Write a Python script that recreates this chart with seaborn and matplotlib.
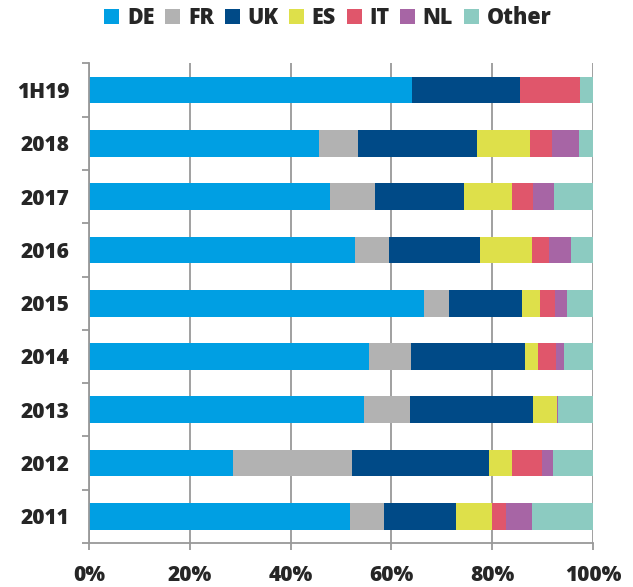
import pandas as pd
import matplotlib.pyplot as plt
import seaborn as sns
from matplotlib.patches import Patch
from matplotlib.ticker import FixedLocator

# ================================
# Data (share of total, %)
# ================================
periods = ["1H19", "2018", "2017", "2016", "2015", "2014", "2013", "2012", "2011"]
countries = ["DE", "FR", "UK", "ES", "IT", "NL", "Other"]

de = [64.1, 45.6, 47.9, 52.7, 66.4, 55.6, 54.5, 28.6, 51.7]
fr = [0.0, 7.8, 8.8, 6.9, 5.0, 8.2, 9.1, 23.6, 6.9]
uk = [21.5, 23.5, 17.8, 17.9, 14.5, 22.7, 24.5, 27.2, 14.3]
es = [0.0, 10.7, 9.4, 10.3, 3.6, 2.6, 4.7, 4.5, 7.1]
it = [11.9, 4.2, 4.2, 3.4, 2.9, 3.6, 0.0, 6.0, 2.7]
nl = [0.0, 5.5, 4.2, 4.4, 2.5, 1.6, 0.2, 2.1, 5.1]
other = [2.5, 2.7, 7.7, 4.4, 5.1, 5.7, 7.0, 8.0, 12.2]

colors = ["#009FE3", "#B2B2B2", "#004A87", "#DEE04A", "#E0566B", "#A765A5", "#8CCBC1"]

df = pd.DataFrame({"period": periods, "DE": de, "FR": fr, "UK": uk, "ES": es,
                   "IT": it, "NL": nl, "Other": other})
cum = df[countries].cumsum(axis=1)
cum["period"] = df["period"]

# ================================
# Plot
# ================================
sns.set_style("white")
plt.rcParams["font.family"] = ["Open Sans", "DejaVu Sans"]
plt.rcParams["font.weight"] = "heavy"

fig = plt.figure(figsize=(6.33, 5.87), dpi=100)
ax = fig.add_axes([0.1406, 0.075, 0.7962, 0.817])

# stacked bars: draw the cumulative totals from the last series to the first
for country, color in reversed(list(zip(countries, colors))):
    sns.barplot(data=cum, y="period", x=country, order=periods, color=color,
                width=0.5, linewidth=0, saturation=1, ax=ax)

ax.set_xlim(0, 100)
ax.set_ylim(len(periods) - 0.5, -0.5)
ax.set_xticks([0, 20, 40, 60, 80, 100])
ax.set_xticklabels(["0%", "20%", "40%", "60%", "80%", "100%"])
ax.set_xlabel("")
ax.set_ylabel("")

ax.set_axisbelow(True)
ax.grid(axis="x", color="#999999", linewidth=1.3)
ax.grid(axis="y", visible=False)

for side in ["top", "right"]:
    ax.spines[side].set_visible(False)
for side in ["left", "bottom"]:
    ax.spines[side].set_color("#999999")
    ax.spines[side].set_linewidth(1.3)

ax.yaxis.set_minor_locator(FixedLocator([i + 0.5 for i in range(-1, len(periods))]))
ax.tick_params(axis="y", which="major", length=0, pad=14, labelsize=15)
ax.tick_params(axis="y", which="minor", left=True, length=5, width=1.3, color="#999999")
ax.tick_params(axis="x", which="major", bottom=True, length=5, width=1.3,
               color="#999999", pad=11, labelsize=15)
for lab in ax.get_xticklabels() + ax.get_yticklabels():
    lab.set_fontweight("heavy")

handles = [Patch(facecolor=c, edgecolor="none") for c in colors]
fig.legend(handles, countries, loc="upper center", bbox_to_anchor=(0.518, 1.022),
           ncol=7, frameon=False, handlelength=0.7, handleheight=0.7,
           handletextpad=0.35, columnspacing=0.5,
           prop={"size": 15.5, "weight": "heavy"})

plt.savefig("out.png", dpi=100)
plt.close()
